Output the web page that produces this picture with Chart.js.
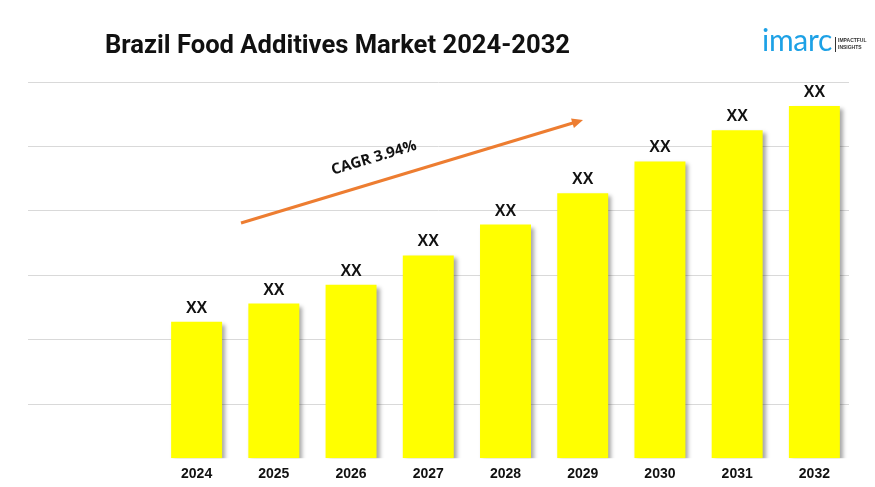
<!DOCTYPE html>
<html>
<head>
<meta charset="utf-8">
<script src="https://cdn.jsdelivr.net/npm/chart.js@4.4.1/dist/chart.umd.min.js"></script>
<style>
  body { margin: 0; background: #fff; }
  #wrap { position: relative; width: 875px; height: 487px; }
  #titulo { position: absolute; left: 105px; top: 29px; font: bold 25.6px Roboto, sans-serif; color: #111; white-space: nowrap; }
  #logo { position: absolute; left: 762px; top: 21px; font-family: Lato, "Open Sans", sans-serif; color: #1da1e6; }
  #logo .marca { position: absolute; left: 0; top: 0; font-size: 30px; font-weight: 400; letter-spacing: -0.3px; }
  #logo .raya { position: absolute; left: 73px; top: 16px; width: 1px; height: 15px; background: #333; }
  #logo .lema { position: absolute; left: 76px; top: 16px; font: bold 5px "Liberation Sans", sans-serif; color: #333; line-height: 7px; }
  canvas { position: absolute; left: 0; top: 0; }
</style>
</head>
<body>
<div id="wrap">
  <canvas id="grafico-mercado" width="875" height="487"></canvas>
  <div id="titulo">Brazil Food Additives Market 2024-2032</div>
  <div id="logo"><span class="marca">imarc</span><span class="raya"></span><span class="lema">IMPACTFUL<br>INSIGHTS</span></div>
</div>
<script>
const labels = ['2024', '2025', '2026', '2027', '2028', '2029', '2030', '2031', '2032'];
// alturas (escala arbitraria, 10 = linea superior)
const valores = [3.63, 4.11, 4.61, 5.39, 6.21, 7.04, 7.89, 8.72, 9.36];
const etiquetas = ['XX', 'XX', 'XX', 'XX', 'XX', 'XX', 'XX', 'XX', 'XX'];
// lineas de la cuadricula
const lineasGrid = [1.44, 3.17, 4.88, 6.59, 8.29, 10];
const textoCagr = 'CAGR 3.94%';

// cuadricula ancha que empieza antes de las barras
const gridPlugin = {
  id: 'gridAncho',
  beforeDatasetsDraw(chart) {
    const ctx = chart.ctx;
    const y = chart.scales.y;
    ctx.save();
    ctx.strokeStyle = '#d9d9d9';
    ctx.lineWidth = 1;
    lineasGrid.forEach(v => {
      const py = Math.round(y.getPixelForValue(v)) + 0.5;
      ctx.beginPath();
      ctx.moveTo(28, py);
      ctx.lineTo(849, py);
      ctx.stroke();
    });
    ctx.restore();
    // sombra de las barras
    ctx.save();
    ctx.shadowColor = 'rgba(0,0,0,0.35)';
    ctx.shadowBlur = 4;
    ctx.shadowOffsetX = 3;
    ctx.shadowOffsetY = 3;
  },
  afterDatasetsDraw(chart) {
    const ctx = chart.ctx;
    ctx.restore();
    // etiquetas XX encima de cada barra
    const meta = chart.getDatasetMeta(0);
    ctx.save();
    ctx.fillStyle = '#111';
    ctx.font = 'bold 16px "Liberation Sans", Arial, sans-serif';
    ctx.textAlign = 'center';
    ctx.textBaseline = 'alphabetic';
    meta.data.forEach((bar, i) => {
      ctx.fillText(etiquetas[i], bar.x, bar.y - 9);
    });
    ctx.restore();
  },
  afterDraw(chart) {
    const ctx = chart.ctx;
    // flecha del CAGR
    const x1 = 241, y1 = 223, x2 = 583, y2 = 120;
    const ang = Math.atan2(y2 - y1, x2 - x1);
    ctx.save();
    ctx.strokeStyle = '#ed7d31';
    ctx.fillStyle = '#ed7d31';
    ctx.lineWidth = 3;
    ctx.beginPath();
    ctx.moveTo(x1, y1);
    ctx.lineTo(x2 - 8 * Math.cos(ang), y2 - 8 * Math.sin(ang));
    ctx.stroke();
    ctx.translate(x2, y2);
    ctx.rotate(ang);
    ctx.beginPath();
    ctx.moveTo(0, 0);
    ctx.lineTo(-11, -5);
    ctx.lineTo(-11, 5);
    ctx.closePath();
    ctx.fill();
    ctx.restore();

    ctx.save();
    ctx.translate(374, 158);
    ctx.rotate(ang);
    ctx.fillStyle = '#111';
    ctx.font = 'bold 15px "Open Sans", sans-serif';
    ctx.textAlign = 'center';
    ctx.textBaseline = 'middle';
    ctx.fillText(textoCagr, 0, 0);
    ctx.restore();
  }
};

const data = {
  labels: labels,
  datasets: [{
    data: valores,
    backgroundColor: '#ffff00',
    borderWidth: 0,
    barPercentage: 0.66,
    categoryPercentage: 1
  }]
};

const config = {
  type: 'bar',
  data: data,
  options: {
    responsive: false,
    animation: false,
    layout: {
      padding: { left: 158, right: 22, top: 82, bottom: 4 }
    },
    plugins: {
      legend: { display: false },
      tooltip: { enabled: false }
    },
    scales: {
      x: {
        grid: { display: false },
        border: { display: false },
        ticks: {
          color: '#111',
          padding: 0,
          font: { family: '"Liberation Sans", Arial, sans-serif', size: 14, weight: 'bold' }
        }
      },
      y: {
        display: false,
        min: 0,
        max: 10
      }
    }
  },
  plugins: [gridPlugin]
};

const myChart = new Chart(document.getElementById('grafico-mercado'), config);
</script>
</body>
</html>
